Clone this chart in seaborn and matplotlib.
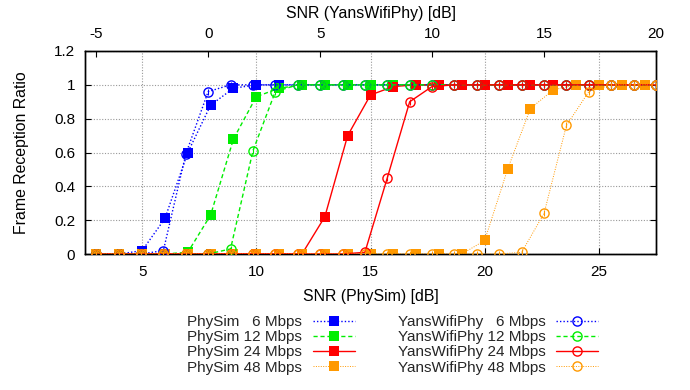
import matplotlib
matplotlib.use("Agg")
import matplotlib.pyplot as plt
import seaborn as sns
import pandas as pd
from matplotlib.lines import Line2D
from matplotlib.ticker import FuncFormatter

# ---- data ----
snr_physim = list(range(3, 28))   # bottom axis, SNR (PhySim) [dB]
snr_yans = list(range(-5, 21))    # top axis, SNR (YansWifiPhy) [dB]

physim_6 = [0, 0, 0.02, 0.21, 0.60, 0.88, 0.98, 1.0] + [1.0] * 17
physim_12 = [0] * 4 + [0.01, 0.23, 0.68, 0.93, 0.98] + [1.0] * 16
physim_24 = [0] * 10 + [0.22, 0.70, 0.94, 0.99] + [1.0] * 11
physim_48 = [0] * 17 + [0.08, 0.50, 0.86, 0.97] + [1.0] * 4

yans_6 = [0] * 3 + [0.02, 0.59, 0.96, 1.0] + [1.0] * 19
yans_12 = [0] * 6 + [0.03, 0.61, 0.96, 1.0] + [1.0] * 16
yans_24 = [0] * 12 + [0.01, 0.45, 0.90, 0.99] + [1.0] * 10
yans_48 = [0] * 19 + [0.01, 0.24, 0.76, 0.96] + [1.0] * 3

physim_labels = ["PhySim   6 Mbps", "PhySim 12 Mbps", "PhySim 24 Mbps", "PhySim 48 Mbps"]
yans_labels = ["YansWifiPhy   6 Mbps", "YansWifiPhy 12 Mbps",
               "YansWifiPhy 24 Mbps", "YansWifiPhy 48 Mbps"]
bottom_ticks = [5, 10, 15, 20, 25]
top_ticks = [-5, 0, 5, 10, 15, 20]
y_ticks = [0, 0.2, 0.4, 0.6, 0.8, 1.0, 1.2]

# ---- styles ----
colors = ["#0000ff", "#00ee00", "#ff0000", "#ff9900"]
lstyles = [(0, (1, 1.5)), (0, (3, 2)), "-", (0, (1, 1.5))]
lwidths = [1.0, 1.0, 1.0, 0.7]
SQ = 6.6
CI = 6.6

sns.set_theme(style="white")
plt.rcParams['font.family'] = ['Liberation Sans', 'DejaVu Sans']
plt.rcParams['font.size'] = 11

fig = plt.figure(figsize=(6.9, 3.9), dpi=100)
ax = fig.add_axes([85 / 690, 1 - 254 / 390, (656 - 85) / 690, (254 - 51) / 390])
ax2 = ax.twiny()

physim_series = [physim_6, physim_12, physim_24, physim_48]
yans_series = [yans_6, yans_12, yans_24, yans_48]

for i in range(4):
    df = pd.DataFrame({"snr": snr_physim, "frr": physim_series[i]})
    sns.lineplot(data=df, x="snr", y="frr", ax=ax, color=colors[i],
                 linestyle=lstyles[i], linewidth=lwidths[i], marker="s",
                 markersize=SQ, markeredgewidth=0, markerfacecolor=colors[i],
                 legend=False, zorder=3)
for i in range(4):
    df = pd.DataFrame({"snr": snr_yans, "frr": yans_series[i]})
    sns.lineplot(data=df, x="snr", y="frr", ax=ax2, color=colors[i],
                 linestyle=lstyles[i], linewidth=lwidths[i], marker="o",
                 markersize=CI, markeredgewidth=1.0, markerfacecolor="none",
                 markeredgecolor=colors[i], legend=False, zorder=3)
    sns.scatterplot(data=df, x="snr", y="frr", ax=ax2, marker="|", s=22,
                    color=colors[i], linewidth=0.8, legend=False, zorder=3)

ax.set_xlim(2.5, 27.5)
ax2.set_xlim(-5.5, 20)
ax.set_ylim(0, 1.2)
ax2.set_ylim(0, 1.2)

ax.set_xticks(bottom_ticks)
ax2.set_xticks(top_ticks)
ax.set_yticks(y_ticks)
fmt = FuncFormatter(lambda v, p: "%g" % v)
ax.yaxis.set_major_formatter(fmt)
ax.xaxis.set_major_formatter(fmt)
ax2.xaxis.set_major_formatter(fmt)

ax.set_xlabel("SNR (PhySim) [dB]", labelpad=7, color="black", fontsize=11.4)
ax2.set_xlabel("SNR (YansWifiPhy) [dB]", labelpad=7, color="black", fontsize=11.4)
ax.set_ylabel("Frame Reception Ratio", labelpad=18, color="black", fontsize=11.4)
ax2.set_ylabel("")

ax.grid(True, which="major", color="#999999", linestyle=(0, (1, 1.5)), linewidth=0.8)
ax.set_axisbelow(True)

ax.tick_params(axis="x", direction="in", length=4, width=0.8, pad=8,
               bottom=True, top=False, colors="black", labelsize=11)
ax.tick_params(axis="y", direction="in", length=4, width=0.8, pad=7,
               left=True, right=True, colors="black", labelsize=11)
ax2.tick_params(axis="x", direction="in", length=4, width=0.8, pad=7,
                top=True, bottom=False, colors="black", labelsize=11)
ax2.tick_params(axis="y", left=False, right=False, labelleft=False, labelright=False)
for a in (ax, ax2):
    for s in a.spines.values():
        s.set_color("black")
        s.set_linewidth(1.0)

# ---- legend ----
def handle(i, marker):
    if marker == "s":
        return Line2D([], [], color=colors[i], linestyle=lstyles[i], linewidth=lwidths[i],
                      marker="s", markersize=SQ, markeredgewidth=0,
                      markerfacecolor=colors[i])
    return Line2D([], [], color=colors[i], linestyle=lstyles[i], linewidth=lwidths[i],
                  marker="o", markersize=CI, markeredgewidth=1.0,
                  markerfacecolor="none", markeredgecolor=colors[i])

common = dict(loc="upper right", markerfirst=False, frameon=False, handlelength=2.75,
              labelspacing=0.08, handletextpad=0.7, borderpad=0, borderaxespad=0,
              fontsize=11)
fig.legend([handle(i, "s") for i in range(4)], physim_labels,
           bbox_to_anchor=(355 / 690, 1 - 315 / 390), **common)
fig.legend([handle(i, "o") for i in range(4)], yans_labels,
           bbox_to_anchor=(598 / 690, 1 - 315 / 390), **common)

fig.savefig("out.png", dpi=100)
